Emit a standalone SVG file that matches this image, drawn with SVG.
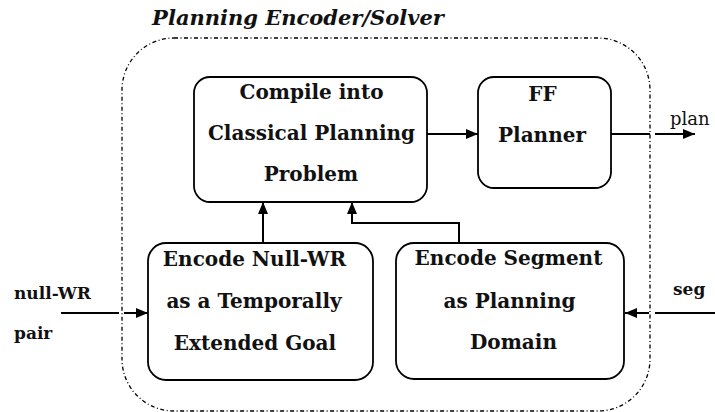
<svg xmlns="http://www.w3.org/2000/svg" width="715" height="412" viewBox="0 0 715 412">
  <defs>
    <marker id="arrow" viewBox="0 0 12 10" refX="12" refY="5" markerWidth="12" markerHeight="10" markerUnits="userSpaceOnUse" orient="auto">
      <path d="M0,0 L12,5 L0,10 Z" fill="#000"/>
    </marker>
  </defs>
  <style>
    .box { fill: #fff; stroke: #000; stroke-width: 1.8; }
    .frame { fill: none; stroke: #000; stroke-width: 1.3; stroke-dasharray: 4 2.5 1 2.5; }
    .wire { fill: none; stroke: #000; stroke-width: 2; }
  </style>
  <rect width="715" height="412" fill="#fff"/>

  <!-- enclosing solver frame -->
  <g id="solver-frame">
    <rect class="frame" x="122" y="38" width="528" height="373" rx="52" ry="52"/>
    <text x="298" y="25" text-anchor="middle" font-family="DejaVu Serif" font-weight="bold" font-style="italic" font-size="21" fill="#111">Planning Encoder/Solver</text>
  </g>

  <g id="compile">
    <rect class="box" x="194" y="77" width="233" height="125" rx="16" ry="16"/>
    <text x="311.5" y="99" text-anchor="middle" font-family="DejaVu Serif" font-weight="bold" font-size="20" fill="#111">Compile into</text>
    <text x="311.5" y="140" text-anchor="middle" font-family="DejaVu Serif" font-weight="bold" font-size="20" fill="#111">Classical Planning</text>
    <text x="311" y="181" text-anchor="middle" font-family="DejaVu Serif" font-weight="bold" font-size="20" fill="#111">Problem</text>
  </g>

  <g id="ff-planner">
    <rect class="box" x="478" y="77" width="133" height="111" rx="16" ry="16"/>
    <text x="542.5" y="101" text-anchor="middle" font-family="DejaVu Serif" font-weight="bold" font-size="20" fill="#111">FF</text>
    <text x="542" y="142" text-anchor="middle" font-family="DejaVu Serif" font-weight="bold" font-size="20" fill="#111">Planner</text>
  </g>

  <g id="encode-goal">
    <rect class="box" x="148" y="243" width="225" height="137" rx="18" ry="18"/>
    <text x="254.5" y="266" text-anchor="middle" font-family="DejaVu Serif" font-weight="bold" font-size="20" fill="#111">Encode Null-WR</text>
    <text x="254" y="308" text-anchor="middle" font-family="DejaVu Serif" font-weight="bold" font-size="20" fill="#111">as a Temporally</text>
    <text x="255" y="350" text-anchor="middle" font-family="DejaVu Serif" font-weight="bold" font-size="20" fill="#111">Extended Goal</text>
  </g>

  <g id="encode-domain">
    <rect class="box" x="396" y="243" width="228" height="136" rx="18" ry="18"/>
    <text x="508.5" y="265" text-anchor="middle" font-family="DejaVu Serif" font-weight="bold" font-size="20" fill="#111">Encode Segment</text>
    <text x="509.5" y="308" text-anchor="middle" font-family="DejaVu Serif" font-weight="bold" font-size="20" fill="#111">as Planning</text>
    <text x="513.5" y="349" text-anchor="middle" font-family="DejaVu Serif" font-weight="bold" font-size="20" fill="#111">Domain</text>
  </g>

  <g id="io-labels">
    <text x="14" y="299" font-family="DejaVu Serif" font-weight="bold" font-size="17" fill="#111">null-WR</text>
    <text x="14" y="339" font-family="DejaVu Serif" font-weight="bold" font-size="17" fill="#111">pair</text>
    <text x="673" y="295" font-family="DejaVu Serif" font-weight="bold" font-size="17" fill="#111">seg</text>
    <text x="670" y="125" font-family="DejaVu Serif" font-size="18" fill="#111">plan</text>
  </g>

  <g id="connectors">
    <path class="wire" d="M427,134 L478,134" marker-end="url(#arrow)"/>
    <path class="wire" d="M611,134 L650,134"/>
    <path class="wire" d="M655,134 L695,134" marker-end="url(#arrow)"/>
    <path class="wire" d="M263,243 L263,202" marker-end="url(#arrow)"/>
    <path class="wire" d="M459,243 L459,223 L352,223 L352,202" marker-end="url(#arrow)"/>
    <path class="wire" d="M61,313 L119,313"/>
    <path class="wire" d="M124,313 L148,313" marker-end="url(#arrow)"/>
    <path class="wire" d="M715,313 L655,313"/>
    <path class="wire" d="M649,313 L625,313" marker-end="url(#arrow)"/>
  </g>
</svg>
